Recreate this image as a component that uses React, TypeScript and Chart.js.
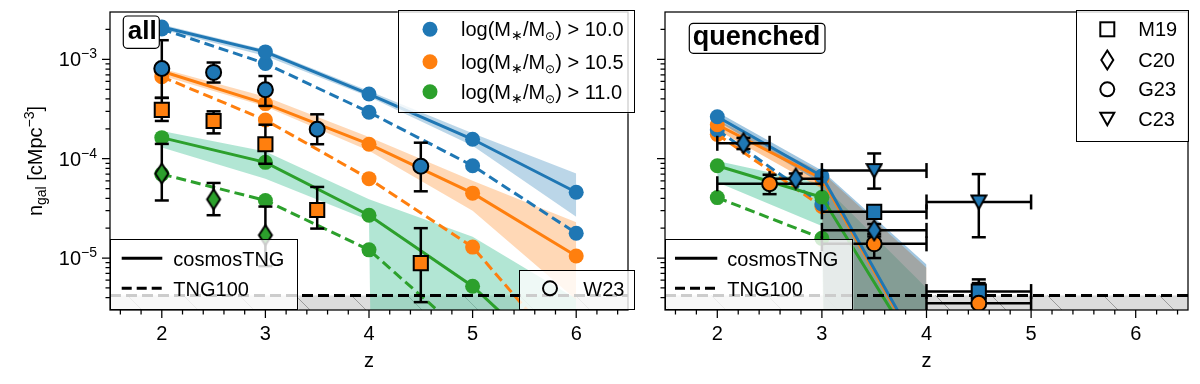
import React, { useEffect, useRef } from 'react';
import { Chart, registerables } from 'chart.js';

Chart.register(...registerables);

const FONT = '"Liberation Sans", Arial, Helvetica, sans-serif';
const BLUE = '#1f77b4';
const ORANGE = '#ff7f0e';
const GREEN = '#2ca02c';
const BAND_BLUE = 'rgba(31,119,180,0.3)';
const BAND_ORANGE = 'rgba(255,127,14,0.3)';
const BAND_GREEN = 'rgba(102,205,170,0.5)';
const BAND_BLUE_Q = 'rgba(31,119,180,0.42)';
const BAND_ORANGE_Q = 'rgba(255,127,14,0.42)';
const BAND_GREEN_Q = 'rgba(102,205,170,0.55)';
const FLOOR = 1e-80;

// ---------- axes ----------
const X_MIN = 1.5;
const X_MAX = 6.5;
const Y_MIN = 3e-6;
const Y_MAX = 3e-3;
const xMajorTicks = [2, 3, 4, 5, 6];
const xTickLabels = ['2', '3', '4', '5', '6'];
const xMinorTicks = [1.6, 1.8, 2.2, 2.4, 2.6, 2.8, 3.2, 3.4, 3.6, 3.8, 4.2, 4.4, 4.6, 4.8, 5.2, 5.4, 5.6, 5.8, 6.2, 6.4];
const yMajorTicks = [1e-5, 1e-4, 1e-3];
const yTickExponents = ['\u22125', '\u22124', '\u22123'];
const yMinorTicks = [4e-6, 5e-6, 6e-6, 7e-6, 8e-6, 9e-6, 2e-5, 3e-5, 4e-5, 5e-5, 6e-5, 7e-5, 8e-5, 9e-5,
  2e-4, 3e-4, 4e-4, 5e-4, 6e-4, 7e-4, 8e-4, 9e-4, 2e-3];

// completeness limit (grey hatched region below)
const completenessLimit = 4.2e-6;

// ---------- "all" panel: simulations ----------
const zSim = [2, 3, 4, 5, 6];
const nAll10Cosmos = [2.12e-3, 1.19e-3, 4.48e-4, 1.57e-4, 4.6e-5];
const nAll105Cosmos = [7.6e-4, 3.59e-4, 1.4e-4, 4.5e-5, 1.05e-5];
const nAll11Cosmos = [1.63e-4, 9.2e-5, 2.7e-5, 5.2e-6, 5.6e-7];
const nAll10Tng100 = [2.02e-3, 9.1e-4, 2.94e-4, 8.5e-5, 1.78e-5];
const nAll105Tng100 = [6.7e-4, 2.45e-4, 6.3e-5, 1.29e-5, 8e-7];
const nAll11Tng100 = [7.0e-5, 3.8e-5, 1.21e-5, 1.45e-6, 1.8e-7];
const bandAll10Lo = [2.0e-3, 1.08e-3, 4.2e-4, 1.35e-4, 2.6e-5];
const bandAll10Hi = [2.25e-3, 1.25e-3, 4.8e-4, 1.8e-4, 7.1e-5];
const bandAll105Lo = [6.9e-4, 3.35e-4, 1.2e-4, 3.0e-5, 3.8e-6];
const bandAll105Hi = [8.1e-4, 4.2e-4, 1.65e-4, 6.0e-5, 2.3e-5];
const bandAll11Lo = [1.3e-4, 6.3e-5, 2.4e-5, 0, 0];
const bandAll11Hi = [1.9e-4, 1.18e-4, 3.9e-5, 1.64e-5, 3.9e-6];

// ---------- "all" panel: observations ----------
const g23AllZ = [2, 2.5, 3, 3.5, 4.5];
const g23AllN = [8.1e-4, 7.4e-4, 4.95e-4, 1.98e-4, 8.4e-5];
const g23AllLo = [4.1e-4, 5.85e-4, 3.4e-4, 1.4e-4, 4.7e-5];
const g23AllHi = [1.56e-3, 9.3e-4, 6.8e-4, 2.8e-4, 1.45e-4];
const m19AllZ = [2, 2.5, 3, 3.5, 4.5];
const m19AllN = [3.1e-4, 2.4e-4, 1.4e-4, 3.05e-5, 8.9e-6];
const m19AllLo = [2.4e-4, 1.8e-4, 8.9e-5, 1.98e-5, 3.6e-6];
const m19AllHi = [4.1e-4, 3.0e-4, 2.2e-4, 5.2e-5, 2.0e-5];
const c20AllZ = [2, 2.5, 3];
const c20AllN = [7.1e-5, 3.9e-5, 1.7e-5];
const c20AllLo = [3.8e-5, 2.7e-5, 8.3e-6];
const c20AllHi = [1.41e-4, 5.7e-5, 3.3e-5];

// ---------- "quenched" panel: simulations ----------
const zQ = [2, 3, 4];
const zQ100 = [2, 3];
const nQ10Cosmos = [2.65e-4, 6.7e-5, 9e-7];
const nQ105Cosmos = [2.2e-4, 6.3e-5, 8.6e-7];
const nQ11Cosmos = [8.5e-5, 4.1e-5, 7.9e-7];
const nQ10Tng100 = [1.95e-4, 3.5e-5];
const nQ105Tng100 = [1.76e-4, 3.3e-5];
const nQ11Tng100 = [4.06e-5, 1.58e-5];
const bandQ10Lo = [2.4e-4, 5.6e-5, 0];
const bandQ10Hi = [2.95e-4, 7.6e-5, 8.6e-6];
const bandQ105Lo = [1.95e-4, 5.0e-5, 0];
const bandQ105Hi = [2.45e-4, 7.3e-5, 8.0e-6];
const bandQ11Lo = [5.8e-5, 2.1e-5, 0];
const bandQ11Hi = [9.5e-5, 5.6e-5, 5.0e-6];

// ---------- "quenched" panel: observations ----------
const c20QZ = [2.25, 2.75, 3.5];
const c20QZLo = [2.0, 2.5, 3.0];
const c20QZHi = [2.5, 3.0, 4.0];
const c20QN = [1.43e-4, 6.3e-5, 1.9e-5];
const c20QLo = [1.25e-4, 5.6e-5, 1.65e-5];
const c20QHi = [1.62e-4, 7.1e-5, 2.2e-5];
const g23QZ = [2.5, 3.5, 4.5];
const g23QZLo = [2.0, 3.0, 4.0];
const g23QZHi = [3.0, 4.0, 5.0];
const g23QN = [5.6e-5, 1.39e-5, 3.5e-6];
const g23QLo = [4.4e-5, 1.0e-5, 1.5e-6];
const g23QHi = [6.9e-5, 1.75e-5, 6.1e-6];
const m19QZ = [3.5, 4.5];
const m19QZLo = [3.0, 4.0];
const m19QZHi = [4.0, 5.0];
const m19QN = [2.92e-5, 4.6e-6];
const m19QLo = [2.6e-5, 3.4e-6];
const m19QHi = [3.3e-5, 5.6e-6];
const c23QZ = [3.5, 4.5];
const c23QZLo = [3.0, 4.0];
const c23QZHi = [4.0, 5.0];
const c23QN = [7.6e-5, 3.67e-5];
const c23QLo = [5.0e-5, 1.62e-5];
const c23QHi = [1.13e-4, 7.0e-5];

// ---------- legend texts ----------
const massThresholds = ['10.0', '10.5', '11.0'];
const massColors = [BLUE, ORANGE, GREEN];
const simNames = ['cosmosTNG', 'TNG100'];
const obsNames = ['M19', 'C20', 'G23', 'C23'];

// ---------- helpers ----------
const pts = (z: number[], n: number[]) => z.map((x, i) => ({ x, y: Math.max(n[i], FLOOR) }));

function simLine(z: number[], n: number[], color: string, dashed: boolean) {
  return {
    data: pts(z, n), borderColor: color, backgroundColor: color, borderWidth: 3,
    borderDash: dashed ? [10, 5] : [], pointRadius: 7.5, pointBackgroundColor: color,
    pointBorderWidth: 0, pointStyle: 'circle', fill: false, tension: 0, order: dashed ? 50 : 40,
  };
}
function bandPair(z: number[], lo: number[], hi: number[], color: string) {
  return [
    { data: pts(z, hi), borderWidth: 0, borderColor: 'transparent', pointRadius: 0, fill: '+1', backgroundColor: color, order: 90 },
    { data: pts(z, lo), borderWidth: 0, borderColor: 'transparent', pointRadius: 0, fill: false, order: 90 },
  ];
}
function vErr(z: number[], lo: number[], hi: number[]) {
  return z.map((x, i) => ({
    data: [{ x, y: Math.max(lo[i], FLOOR) }, { x, y: hi[i] }], borderColor: '#000', borderWidth: 2.5,
    pointStyle: 'line', pointRadius: 7, pointBorderColor: '#000', pointBorderWidth: 2.5,
    pointBackgroundColor: '#000', fill: false, order: 20,
  }));
}
function hErr(zlo: number[], zhi: number[], n: number[]) {
  return n.map((y, i) => ({
    data: [{ x: zlo[i], y }, { x: zhi[i], y }], borderColor: '#000', borderWidth: 2.5,
    pointStyle: 'line', pointRotation: 90, pointRadius: 7.5, pointBorderColor: '#000', pointBorderWidth: 2.5,
    pointBackgroundColor: '#000', fill: false, order: 20,
  }));
}
function markers(z: number[], n: number[], style: any, radius: number, color: string) {
  return {
    data: pts(z, n), showLine: false, pointStyle: style, pointRadius: radius,
    pointBackgroundColor: color, pointBorderColor: '#000', pointBorderWidth: 2, order: 10,
  };
}
function diamondCanvas(fill: string) {
  const c = document.createElement('canvas');
  c.width = 18; c.height = 24;
  const g = c.getContext('2d')!;
  g.beginPath(); g.moveTo(9, 2); g.lineTo(15.5, 12); g.lineTo(9, 22); g.lineTo(2.5, 12); g.closePath();
  g.fillStyle = fill; g.fill(); g.lineWidth = 2; g.strokeStyle = '#000'; g.stroke();
  return c;
}
function triDownCanvas(fill: string) {
  const c = document.createElement('canvas');
  c.width = 18; c.height = 17;
  const g = c.getContext('2d')!;
  g.beginPath(); g.moveTo(1.5, 2); g.lineTo(16.5, 2); g.lineTo(9, 15.5); g.closePath();
  g.fillStyle = fill; g.fill(); g.lineWidth = 2; g.strokeStyle = '#000'; g.stroke();
  return c;
}
function hatchPattern(ctx: CanvasRenderingContext2D) {
  const t = document.createElement('canvas');
  t.width = 56; t.height = 56;
  const g = t.getContext('2d')!;
  g.fillStyle = '#dcdcdc'; g.fillRect(0, 0, 56, 56);
  g.strokeStyle = '#9a9a9a'; g.lineWidth = 1;
  g.beginPath(); g.moveTo(-2, -2); g.lineTo(58, 58); g.stroke();
  return ctx.createPattern(t, 'repeat');
}
function limitDatasets(pattern: any) {
  const d = [{ x: X_MIN, y: completenessLimit }, { x: X_MAX, y: completenessLimit }];
  return [
    { data: d, borderWidth: 0, borderColor: 'transparent', pointRadius: 0, fill: 'start', backgroundColor: pattern, order: 100 },
    { data: d, borderColor: '#000', borderWidth: 3, borderDash: [11, 5], pointRadius: 0, fill: false, order: 30 },
  ];
}

type Run = { t: string; size?: number; dy?: number };
function runsWidth(ctx: CanvasRenderingContext2D, runs: Run[], base: number) {
  let w = 0;
  for (const r of runs) { ctx.font = `${r.size ?? base}px ${FONT}`; w += ctx.measureText(r.t).width; }
  return w;
}
function drawRuns(ctx: CanvasRenderingContext2D, runs: Run[], x: number, y: number, base: number) {
  let cx = x;
  for (const r of runs) {
    ctx.font = `${r.size ?? base}px ${FONT}`;
    ctx.fillText(r.t, cx, y + (r.dy ?? 0));
    cx += ctx.measureText(r.t).width;
  }
}
function legendBox(ctx: CanvasRenderingContext2D, x0: number, y0: number, x1: number, y1: number) {
  ctx.fillStyle = 'rgba(255,255,255,0.8)';
  ctx.fillRect(x0, y0, x1 - x0, y1 - y0);
  ctx.strokeStyle = '#000'; ctx.lineWidth = 1; ctx.setLineDash([]);
  ctx.strokeRect(Math.round(x0) + 0.5, Math.round(y0) + 0.5, Math.round(x1 - x0) - 1, Math.round(y1 - y0) - 1);
}
function roundBoxLabel(ctx: CanvasRenderingContext2D, text: string, x0: number, y0: number, x1: number, y1: number, tx: number, ty: number, size: number) {
  const r = 4;
  ctx.beginPath();
  ctx.moveTo(x0 + r, y0); ctx.lineTo(x1 - r, y0); ctx.arcTo(x1, y0, x1, y0 + r, r);
  ctx.lineTo(x1, y1 - r); ctx.arcTo(x1, y1, x1 - r, y1, r); ctx.lineTo(x0 + r, y1);
  ctx.arcTo(x0, y1, x0, y1 - r, r); ctx.lineTo(x0, y0 + r); ctx.arcTo(x0, y0, x0 + r, y0, r); ctx.closePath();
  ctx.fillStyle = '#fff'; ctx.fill();
  ctx.strokeStyle = '#000'; ctx.lineWidth = 1.2; ctx.setLineDash([]); ctx.stroke();
  ctx.fillStyle = '#000'; ctx.font = `bold ${size}px ${FONT}`; ctx.textAlign = 'left'; ctx.textBaseline = 'alphabetic';
  ctx.fillText(text, tx, ty);
}
function lineLegend(ctx: CanvasRenderingContext2D, x0: number, x1: number, lx0: number, lx1: number, tx: number) {
  legendBox(ctx, x0, 239.3, x1, 310);
  const ys = [258.3, 288.3];
  ctx.strokeStyle = '#000'; ctx.lineWidth = 3;
  ys.forEach((y, i) => {
    ctx.setLineDash(i === 0 ? [] : [10, 5]);
    ctx.beginPath(); ctx.moveTo(lx0, y); ctx.lineTo(lx1, y); ctx.stroke();
  });
  ctx.setLineDash([]);
  ctx.fillStyle = '#000'; ctx.font = `20px ${FONT}`; ctx.textAlign = 'left'; ctx.textBaseline = 'alphabetic';
  ys.forEach((y, i) => ctx.fillText(simNames[i], tx, y + 7.5));
}
function drawFrame(chart: any, showYLabels: boolean) {
  const ctx: CanvasRenderingContext2D = chart.ctx;
  const { left, right, top, bottom } = chart.chartArea;
  const xs = chart.scales.x, ys = chart.scales.y;
  ctx.save();
  ctx.setLineDash([]);
  ctx.strokeStyle = '#000'; ctx.lineWidth = 1.25;
  ctx.strokeRect(left, top, right - left, bottom - top);
  ctx.beginPath();
  xMajorTicks.forEach(v => { const p = xs.getPixelForValue(v); ctx.moveTo(p, bottom); ctx.lineTo(p, bottom + 8); });
  xMinorTicks.forEach(v => { const p = xs.getPixelForValue(v); ctx.moveTo(p, bottom); ctx.lineTo(p, bottom + 4.5); });
  yMajorTicks.forEach(v => { const p = ys.getPixelForValue(v); ctx.moveTo(left, p); ctx.lineTo(left - 8, p); });
  yMinorTicks.forEach(v => { const p = ys.getPixelForValue(v); ctx.moveTo(left, p); ctx.lineTo(left - 4.5, p); });
  ctx.stroke();
  ctx.fillStyle = '#000'; ctx.font = `20px ${FONT}`; ctx.textAlign = 'center'; ctx.textBaseline = 'alphabetic';
  xMajorTicks.forEach((v, i) => ctx.fillText(xTickLabels[i], xs.getPixelForValue(v), bottom + 29.5));
  ctx.fillText('z', (left + right) / 2, bottom + 56.7);
  if (showYLabels) {
    ctx.textAlign = 'left';
    yMajorTicks.forEach((v, i) => {
      const runs: Run[] = [{ t: '10' }, { t: yTickExponents[i], size: 14, dy: -8 }];
      const w = runsWidth(ctx, runs, 20);
      drawRuns(ctx, runs, left - 13 - w, ys.getPixelForValue(v) + 7, 20);
    });
    ctx.save();
    ctx.translate(42, (top + bottom) / 2);
    ctx.rotate(-Math.PI / 2);
    const title: Run[] = [{ t: 'n' }, { t: 'gal', size: 14, dy: 4 }, { t: ' [cMpc' }, { t: '\u22123', size: 14, dy: -8 }, { t: ']' }];
    const tw = runsWidth(ctx, title, 20);
    drawRuns(ctx, title, -tw / 2, 0, 20);
    ctx.restore();
  }
  ctx.restore();
}
function drawDiamondPath(ctx: CanvasRenderingContext2D, x: number, y: number) {
  ctx.beginPath(); ctx.moveTo(x, y - 9.5); ctx.lineTo(x + 6, y); ctx.lineTo(x, y + 9.5); ctx.lineTo(x - 6, y); ctx.closePath();
}

const decorAll = {
  id: 'decorAll',
  afterDraw(chart: any) {
    const ctx: CanvasRenderingContext2D = chart.ctx;
    drawFrame(chart, true);
    ctx.save();
    roundBoxLabel(ctx, 'all', 123.3, 16, 159.3, 48.3, 127.7, 39.3, 26);
    // mass legend
    legendBox(ctx, 397.7, 10, 635, 113.3);
    const ly = [29.3, 61.7, 91.7];
    ly.forEach((y, i) => {
      ctx.fillStyle = massColors[i];
      ctx.beginPath(); ctx.arc(430, y, 7.5, 0, Math.PI * 2); ctx.fill();
      ctx.fillStyle = '#000'; ctx.textAlign = 'left'; ctx.textBaseline = 'alphabetic';
      drawRuns(ctx, [{ t: 'log(M' }, { t: '\u2217', size: 14, dy: 4 }, { t: '/M' }, { t: '\u2299', size: 12, dy: 4 }, { t: ') > ' + massThresholds[i] }], 461, y + 7, 20);
    });
    lineLegend(ctx, 110, 298.3, 121.7, 162.3, 173.3);
    // W23 legend
    legendBox(ctx, 519.3, 270, 635, 310);
    ctx.strokeStyle = '#000'; ctx.lineWidth = 2;
    ctx.beginPath(); ctx.arc(550, 288.3, 7, 0, Math.PI * 2); ctx.stroke();
    ctx.fillStyle = '#000'; ctx.font = `20px ${FONT}`; ctx.textAlign = 'left';
    ctx.fillText('W23', 583.3, 295.8);
    ctx.restore();
  },
};

const decorQ = {
  id: 'decorQ',
  afterDraw(chart: any) {
    const ctx: CanvasRenderingContext2D = chart.ctx;
    drawFrame(chart, false);
    ctx.save();
    roundBoxLabel(ctx, 'quenched', 49.3, 23.3, 185, 53.3, 52.7, 45, 27);
    // observation legend
    legendBox(ctx, 436, 10, 549, 141.7);
    const ly = [29.3, 60, 89.3, 119.3];
    const mx = 467.3;
    ctx.strokeStyle = '#000'; ctx.lineWidth = 2;
    ctx.strokeRect(mx - 7, ly[0] - 7, 14, 14);
    drawDiamondPath(ctx, mx, ly[1]); ctx.stroke();
    ctx.beginPath(); ctx.arc(mx, ly[2], 7, 0, Math.PI * 2); ctx.stroke();
    ctx.beginPath(); ctx.moveTo(mx - 7, ly[3] - 6.5); ctx.lineTo(mx + 7, ly[3] - 6.5); ctx.lineTo(mx, ly[3] + 6); ctx.closePath(); ctx.stroke();
    ctx.fillStyle = '#000'; ctx.font = `20px ${FONT}`; ctx.textAlign = 'left'; ctx.textBaseline = 'alphabetic';
    ly.forEach((y, i) => ctx.fillText(obsNames[i], 498.3, y + 7));
    lineLegend(ctx, 25, 213.3, 35, 77.3, 87.3);
    ctx.restore();
  },
};

function baseOptions(yWidth: number, padRight: number) {
  return {
    responsive: false,
    animation: false,
    events: [],
    layout: { padding: { top: 10, right: padRight, left: 0, bottom: 0 } },
    plugins: { legend: { display: false }, tooltip: { enabled: false } },
    scales: {
      x: {
        type: 'linear', min: X_MIN, max: X_MAX,
        grid: { display: false }, border: { display: false }, ticks: { display: false },
        afterFit: (s: any) => { s.height = 74; },
      },
      y: {
        type: 'logarithmic', min: Y_MIN, max: Y_MAX,
        grid: { display: false }, border: { display: false }, ticks: { display: false },
        afterFit: (s: any) => { s.width = yWidth; },
      },
    },
  };
}

function buildAll(ctx: CanvasRenderingContext2D) {
  const datasets: any[] = [
    ...limitDatasets(hatchPattern(ctx)),
    ...bandPair(zSim, bandAll10Lo, bandAll10Hi, BAND_BLUE),
    ...bandPair(zSim, bandAll105Lo, bandAll105Hi, BAND_ORANGE),
    ...bandPair(zSim, bandAll11Lo, bandAll11Hi, BAND_GREEN),
    simLine(zSim, nAll10Tng100, BLUE, true),
    simLine(zSim, nAll105Tng100, ORANGE, true),
    simLine(zSim, nAll11Tng100, GREEN, true),
    simLine(zSim, nAll10Cosmos, BLUE, false),
    simLine(zSim, nAll105Cosmos, ORANGE, false),
    simLine(zSim, nAll11Cosmos, GREEN, false),
    ...vErr(g23AllZ, g23AllLo, g23AllHi),
    ...vErr(m19AllZ, m19AllLo, m19AllHi),
    ...vErr(c20AllZ, c20AllLo, c20AllHi),
    markers(g23AllZ, g23AllN, 'circle', 7.5, BLUE),
    markers(m19AllZ, m19AllN, 'rect', 10, ORANGE),
    markers(c20AllZ, c20AllN, diamondCanvas(GREEN), 10, GREEN),
  ];
  return { type: 'line', data: { datasets }, options: baseOptions(110, 5), plugins: [decorAll] };
}

function buildQ(ctx: CanvasRenderingContext2D) {
  const datasets: any[] = [
    ...limitDatasets(hatchPattern(ctx)),
    ...bandPair(zQ, bandQ10Lo, bandQ10Hi, BAND_BLUE_Q),
    ...bandPair(zQ, bandQ105Lo, bandQ105Hi, BAND_ORANGE_Q),
    ...bandPair(zQ, bandQ11Lo, bandQ11Hi, BAND_GREEN_Q),
    simLine(zQ100, nQ10Tng100, BLUE, true),
    simLine(zQ100, nQ105Tng100, ORANGE, true),
    simLine(zQ100, nQ11Tng100, GREEN, true),
    simLine(zQ, nQ10Cosmos, BLUE, false),
    simLine(zQ, nQ105Cosmos, ORANGE, false),
    simLine(zQ, nQ11Cosmos, GREEN, false),
    ...vErr(c20QZ, c20QLo, c20QHi), ...hErr(c20QZLo, c20QZHi, c20QN),
    ...vErr(g23QZ, g23QLo, g23QHi), ...hErr(g23QZLo, g23QZHi, g23QN),
    ...vErr(m19QZ, m19QLo, m19QHi), ...hErr(m19QZLo, m19QZHi, m19QN),
    ...vErr(c23QZ, c23QLo, c23QHi), ...hErr(c23QZLo, c23QZHi, c23QN),
    markers(c20QZ, c20QN, diamondCanvas(BLUE), 10, BLUE),
    markers(g23QZ, g23QN, 'circle', 7.5, ORANGE),
    markers(m19QZ, m19QN, 'rect', 10, BLUE),
    markers(c23QZ, c23QN, triDownCanvas(BLUE), 10, BLUE),
  ];
  return { type: 'line', data: { datasets }, options: baseOptions(25, 11), plugins: [decorQ] };
}

function Panel({ build, left, width }: { build: (ctx: CanvasRenderingContext2D) => any; left: number; width: number }) {
  const ref = useRef<HTMLCanvasElement>(null);
  useEffect(() => {
    const canvas = ref.current!;
    const ctx = canvas.getContext('2d')!;
    const chart = new Chart(canvas, build(ctx));
    return () => chart.destroy();
  }, []);
  return (
    <canvas ref={ref} width={width} height={384}
      style={{ position: 'absolute', left, top: 0, width, height: 384 }} />
  );
}

export default function App() {
  return (
    <div style={{ position: 'absolute', left: 0, top: 0, width: 1200, height: 384, background: '#fff' }}>
      <Panel build={buildAll} left={0} width={640} />
      <Panel build={buildQ} left={640} width={560} />
    </div>
  );
}
